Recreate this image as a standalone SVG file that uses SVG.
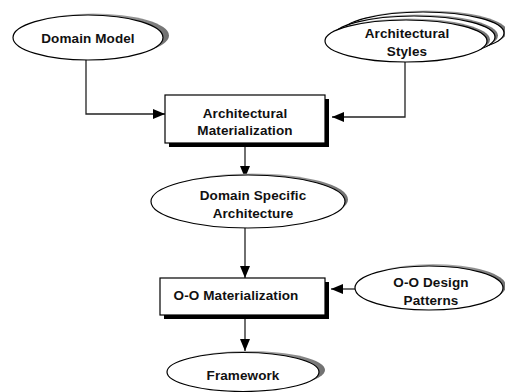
<svg xmlns="http://www.w3.org/2000/svg" width="505" height="392" viewBox="0 0 505 392">
  <defs>
    <linearGradient id="shade" x1="0" y1="0" x2="1" y2="0">
      <stop offset="0" stop-color="#d8d8d8"/>
      <stop offset="0.6" stop-color="#a8a8a8"/>
      <stop offset="1" stop-color="#707070"/>
    </linearGradient>
    <marker id="arrow" viewBox="0 0 12 10" refX="12" refY="5" markerWidth="12" markerHeight="10" markerUnits="userSpaceOnUse" orient="auto">
      <path d="M0,0 L12,5 L0,10 Z" fill="#000"/>
    </marker>
  </defs>
  <style>
    .oval { fill: #fff; stroke: #000; stroke-width: 1.2; }
    .shadow { fill: url(#shade); stroke: none; }
    .box { fill: #fff; stroke: #000; stroke-width: 1.2; }
    .boxshadow { fill: #000; }
    .label { font-family: "Liberation Sans", Arial, sans-serif; font-weight: bold; font-size: 13.5px; letter-spacing: 0.1px; fill: #111; text-anchor: middle; }
    .edge { fill: none; stroke: #222; stroke-width: 1.3; }
  </style>
  <rect width="505" height="392" fill="#fff"/>

  <g id="connectors">
    <polyline class="edge" points="86,60 86,114 165,114" marker-end="url(#arrow)"/>
    <polyline class="edge" points="405,62 405,117 332,117" marker-end="url(#arrow)"/>
    <line class="edge" x1="245" y1="147" x2="245" y2="178" marker-end="url(#arrow)"/>
    <line class="edge" x1="245" y1="228" x2="245" y2="278" marker-end="url(#arrow)"/>
    <line class="edge" x1="355" y1="289" x2="331" y2="289" marker-end="url(#arrow)"/>
    <line class="edge" x1="245" y1="319" x2="245" y2="351" marker-end="url(#arrow)"/>
  </g>

  <g id="domain-model">
    <ellipse class="shadow" cx="93" cy="35.5" rx="76" ry="22"/>
    <ellipse class="oval" cx="88" cy="37.5" rx="75" ry="22.5"/>
    <text class="label" x="88" y="42.5">Domain Model</text>
  </g>

  <g id="architectural-styles">
    <ellipse class="shadow" cx="426" cy="31.5" rx="81" ry="21"/>
    <ellipse class="oval" cx="423" cy="33" rx="81" ry="21"/>
    <ellipse class="shadow" cx="417" cy="35.5" rx="81" ry="21"/>
    <ellipse class="oval" cx="414" cy="37" rx="81" ry="21"/>
    <ellipse class="shadow" cx="409" cy="39.5" rx="81" ry="21"/>
    <ellipse class="oval" cx="406" cy="41" rx="81" ry="21"/>
    <text class="label" x="407" y="37.5">Architectural</text>
    <text class="label" x="407" y="56">Styles</text>
  </g>

  <g id="architectural-materialization">
    <rect class="boxshadow" x="169" y="99" width="160" height="48"/>
    <rect class="box" x="165" y="95" width="160" height="48"/>
    <text class="label" x="245" y="117.5">Architectural</text>
    <text class="label" x="245" y="134.5">Materialization</text>
  </g>

  <g id="domain-specific-architecture">
    <ellipse class="shadow" cx="252" cy="199.5" rx="96" ry="26"/>
    <ellipse class="oval" cx="248" cy="201.5" rx="97" ry="26.5"/>
    <text class="label" x="253" y="199.5">Domain Specific</text>
    <text class="label" x="253" y="217.5">Architecture</text>
  </g>

  <g id="oo-materialization">
    <rect class="boxshadow" x="164" y="282" width="165" height="37"/>
    <rect class="box" x="160" y="278" width="165" height="37"/>
    <text class="label" x="236" y="300">O-O Materialization</text>
  </g>

  <g id="oo-design-patterns">
    <ellipse class="shadow" cx="433" cy="286" rx="73" ry="22"/>
    <ellipse class="oval" cx="429" cy="288" rx="74" ry="22"/>
    <text class="label" x="431" y="286.5">O-O Design</text>
    <text class="label" x="431" y="304.5">Patterns</text>
  </g>

  <g id="framework">
    <ellipse class="shadow" cx="248" cy="370" rx="77" ry="19"/>
    <ellipse class="oval" cx="243" cy="372" rx="76" ry="19.5"/>
    <text class="label" x="243" y="380">Framework</text>
  </g>
</svg>
